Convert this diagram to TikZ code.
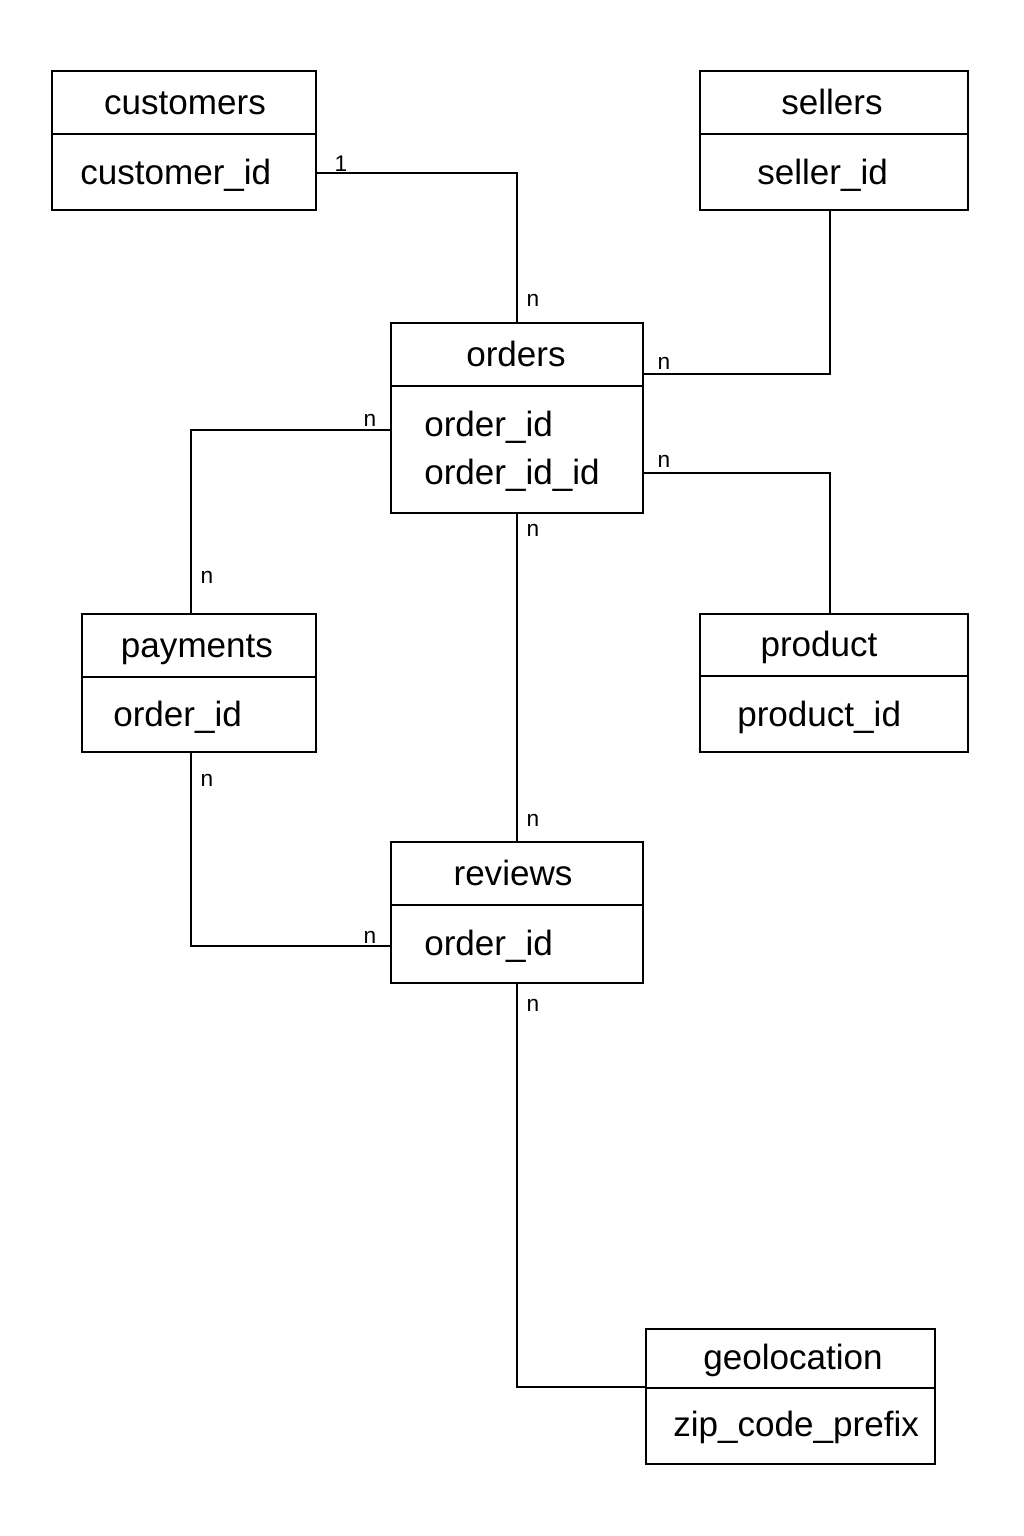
\documentclass[tikz,border=0pt]{standalone}
\usepackage{fontspec}
\setmainfont{Liberation Sans}
\begin{document}
\begin{tikzpicture}[x=0.75pt,y=-0.75pt,
  tbl/.style={draw=black,line width=1.5pt,rectangle,inner sep=0pt,outer sep=0pt},
  ttl/.style={font=\fontsize{26.3}{32}\selectfont,anchor=center,inner sep=0pt,text height=0.72em,text depth=0.22em,yshift=-6.5pt},
  fld/.style={font=\fontsize{26.3}{32}\selectfont,anchor=west,inner sep=0pt,text height=0.72em,text depth=0.22em,yshift=-6.5pt},
  card/.style={font=\fontsize{17}{19}\selectfont,anchor=center,inner sep=0pt,yshift=-1.5pt},
  conn/.style={draw=black,line width=1.1pt},
  divl/.style={draw=black,line width=1.1pt}]
\useasboundingbox[fill=white] (0,0) rectangle (1024,1536);

% tables (centre, width, height in px)
\node[tbl,minimum width=198pt,minimum height=104.25pt] (cust) at (184,140.5) {};
\node[tbl,minimum width=201pt,minimum height=104.25pt] (sell) at (834,140.5) {};
\node[tbl,minimum width=189pt,minimum height=142.5pt] (ord) at (517,418) {};
\node[tbl,minimum width=175.5pt,minimum height=103.5pt] (pay) at (199,683) {};
\node[tbl,minimum width=201pt,minimum height=103.5pt] (prod) at (834,683) {};
\node[tbl,minimum width=189pt,minimum height=105.75pt] (rev) at (517,912.5) {};
\node[tbl,minimum width=216.75pt,minimum height=101.25pt] (geo) at (790.5,1396.5) {};

% dividers
\draw[divl] (cust.west |- 0,134) -- (cust.east |- 0,134);
\draw[divl] (sell.west |- 0,134) -- (sell.east |- 0,134);
\draw[divl] (ord.west |- 0,386) -- (ord.east |- 0,386);
\draw[divl] (pay.west |- 0,677) -- (pay.east |- 0,677);
\draw[divl] (prod.west |- 0,676) -- (prod.east |- 0,676);
\draw[divl] (rev.west |- 0,905) -- (rev.east |- 0,905);
\draw[divl] (geo.west |- 0,1388) -- (geo.east |- 0,1388);

% titles
\node[ttl] (custT) at (185,102.5) {customers};
\node[ttl] (sellT) at (832,102.5) {sellers};
\node[ttl] (ordT) at (516,354.5) {orders};
\node[ttl] (payT) at (197,645.5) {payments};
\node[ttl] (prodT) at (819,644.5) {product};
\node[ttl] (revT) at (513,873.5) {reviews};
\node[ttl] (geoT) at (793,1357) {geolocation};

% fields
\node[fld] (custF) at (80,172) {customer\_id};
\node[fld] (sellF) at (757,172) {seller\_id};
\node[fld] (ordF1) at (424,424) {order\_id};
\node[fld] (ordF2) at (424,472) {order\_id\_id};
\node[fld] (payF) at (113,714) {order\_id};
\node[fld] (prodF) at (737,714) {product\_id};
\node[fld] (revF) at (424,943) {order\_id};
\node[fld] (geoF) at (673,1424) {zip\_code\_prefix};

% connectors
\draw[conn] (cust.east |- 0,173) -| (ord.north);
\draw[conn] (sell.south -| 830,0) |- (ord.east |- 0,374);
\draw[conn] (ord.west |- 0,430) -| (pay.north -| 191,0);
\draw[conn] (ord.east |- 0,473) -| (prod.north -| 830,0);
\draw[conn] (ord.south) -- (rev.north);
\draw[conn] (pay.south -| 191,0) |- (rev.west |- 0,946);
\draw[conn] (rev.south) |- (geo.west |- 0,1387);

% cardinalities
\node[card] (c1) at (341,162) {1};
\node[card] (c2) at (533,298) {n};
\node[card] (c3) at (664,361) {n};
\node[card] (c4) at (370,418) {n};
\node[card] (c5) at (207,575) {n};
\node[card] (c6) at (664,459) {n};
\node[card] (c7) at (533,528) {n};
\node[card] (c8) at (533,818) {n};
\node[card] (c9) at (207,778) {n};
\node[card] (c10) at (370,935) {n};
\node[card] (c11) at (533,1003) {n};
\end{tikzpicture}
\end{document}
